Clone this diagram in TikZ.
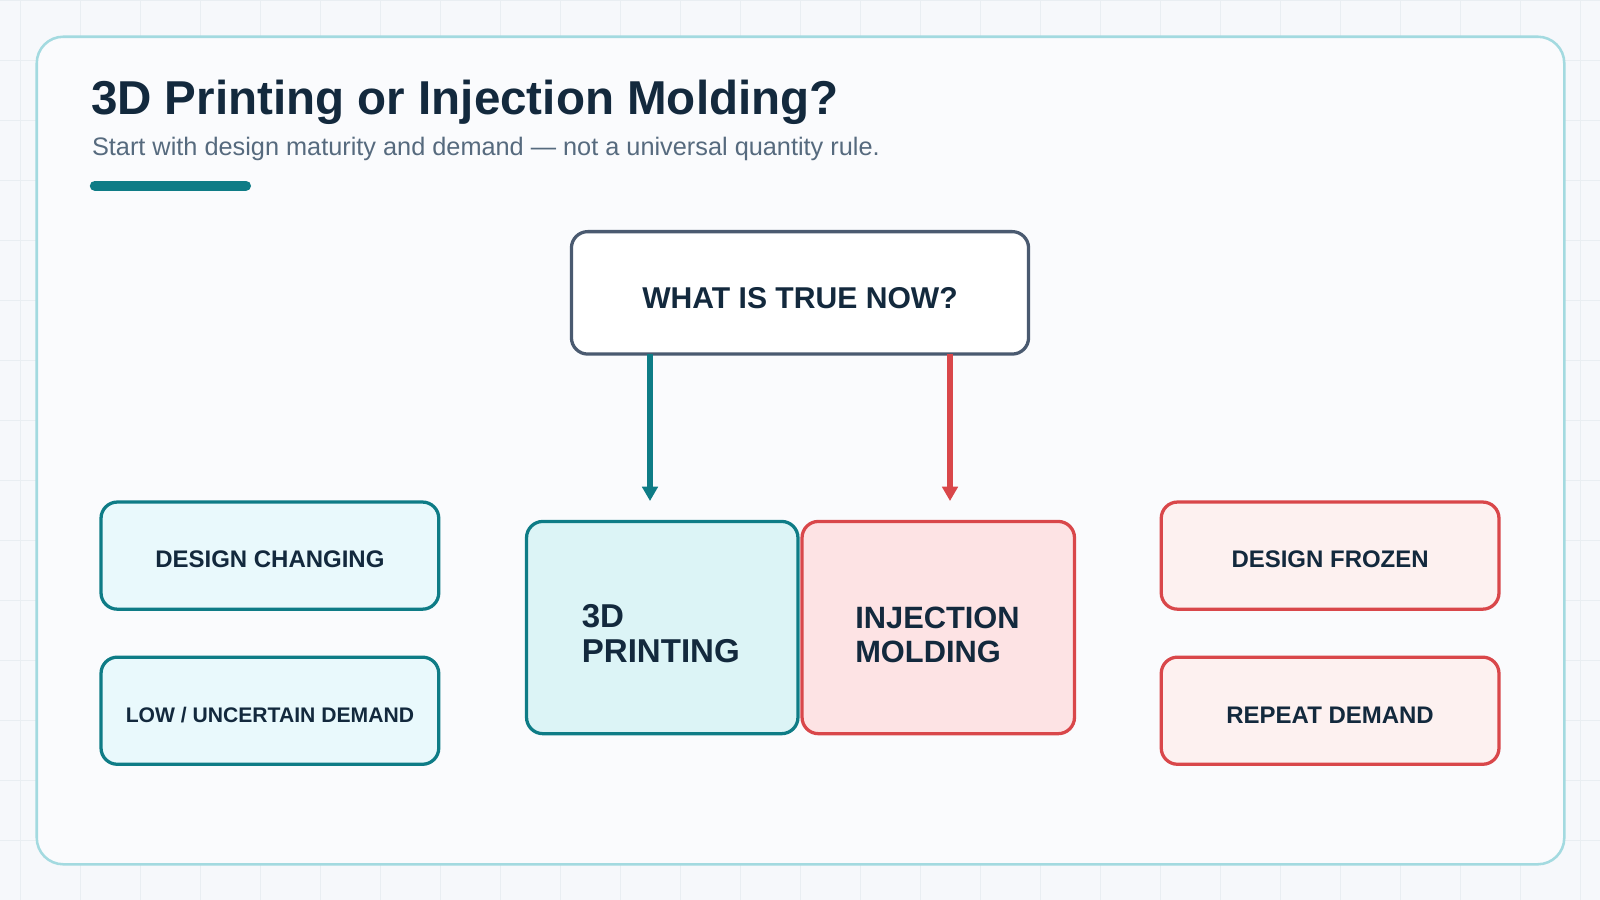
\documentclass[tikz,border=0pt]{standalone}
\usepackage{fontspec}
\setmainfont{Liberation Sans}
\usetikzlibrary{arrows.meta}
\definecolor{bg}{HTML}{F6F8FB}
\definecolor{gridc}{HTML}{E9EEF2}
\definecolor{frame}{HTML}{A3DAE0}
\definecolor{ink}{HTML}{13293D}
\definecolor{sub}{HTML}{566A7E}
\definecolor{teal}{HTML}{0E7C86}
\definecolor{red}{HTML}{D9474A}
\definecolor{slate}{HTML}{4A5A70}
\definecolor{tealf}{HTML}{DCF4F6}
\definecolor{tealg}{HTML}{E9F9FC}
\definecolor{redf}{HTML}{FDE3E4}
\definecolor{redg}{HTML}{FDF1F0}
\tikzset{
 box/.style={draw, line width=3.2pt, rounded corners=16pt, inner sep=0pt, align=center, text=ink, font=\bfseries},
 tealbox/.style={box, draw=teal, fill=#1},
 redbox/.style={box, draw=red, fill=#1},
 arr/.style={line width=5pt, -{Triangle[length=14pt,width=15pt]}, shorten >=20pt},
 lbl/.style={inner sep=0, text=ink},
}
\begin{document}
\begin{tikzpicture}[x=1pt,y=-1pt]
\useasboundingbox (0,0) rectangle (1568,882);
\fill[bg] (0,0) rectangle (1568,882);
\foreach \i in {0,...,27} \draw[gridc, line width=0.8pt] (20+\i*58.8,0) -- (20+\i*58.8,882);
\foreach \j in {0,...,15} \draw[gridc, line width=0.8pt] (0,0+\j*58.8) -- (1568,0+\j*58.8);
\draw[frame, fill=bg!60!white, line width=2.5pt, rounded corners=26pt] (36,36) rectangle (1533,847);
\node[anchor=base west, lbl, font=\fontsize{46.6}{50}\selectfont\bfseries] (title) at (89,112) {3D Printing or Injection Molding?};
\node[anchor=base west, inner sep=0, text=sub, font=\fontsize{24.8}{28}\selectfont] (subt) at (90,152) {Start with design maturity and demand — not a universal quantity rule.};
\draw[teal, line width=10pt, line cap=round] (93,182) -- (241,182);
\node[box, draw=slate, fill=white, minimum width=448pt, minimum height=120pt] (top) at (784,287) {};
\node[lbl, font=\fontsize{29.5}{32}\selectfont\bfseries] (topt) at (784,292) {WHAT IS TRUE NOW?};
\node[tealbox=tealf, minimum width=266pt, minimum height=208pt] (pr) at (649,615) {};
\node[anchor=west, align=left, lbl, font=\fontsize{32.4}{34}\selectfont\bfseries] (prt) at (570,621) {3D\\PRINTING};
\node[redbox=redf, minimum width=267pt, minimum height=208pt] (im) at (919.5,615) {};
\node[anchor=west, align=left, lbl, font=\fontsize{30.2}{33}\selectfont\bfseries] (imt) at (838,622) {INJECTION\\MOLDING};
\coordinate (a1) at (637,347); \coordinate (a2) at (637,511);
\coordinate (b1) at (931,347); \coordinate (b2) at (931,511);
\draw[arr, teal] (a1) -- (a2);
\draw[arr, red] (b1) -- (b2);
\tikzset{side/.style={minimum width=331pt, minimum height=105pt}}
\node[tealbox=tealg, side] (l1) at (264.5,544.5) {};
\node[tealbox=tealg, side] (l2) at (264.5,696.5) {};
\node[redbox=redg, side] (r1) at (1303.5,544.5) {};
\node[redbox=redg, side] (r2) at (1303.5,696.5) {};
\node[lbl, font=\fontsize{23.5}{26}\selectfont\bfseries] at (264.5,548.5) {DESIGN CHANGING};
\node[lbl, font=\fontsize{20.7}{24}\selectfont\bfseries] at (264.5,700.5) {LOW / UNCERTAIN DEMAND};
\node[lbl, font=\fontsize{23.5}{26}\selectfont\bfseries] at (1303.5,548.5) {DESIGN FROZEN};
\node[lbl, font=\fontsize{23.5}{26}\selectfont\bfseries] at (1303.5,700.5) {REPEAT DEMAND};
\end{tikzpicture}
\end{document}
